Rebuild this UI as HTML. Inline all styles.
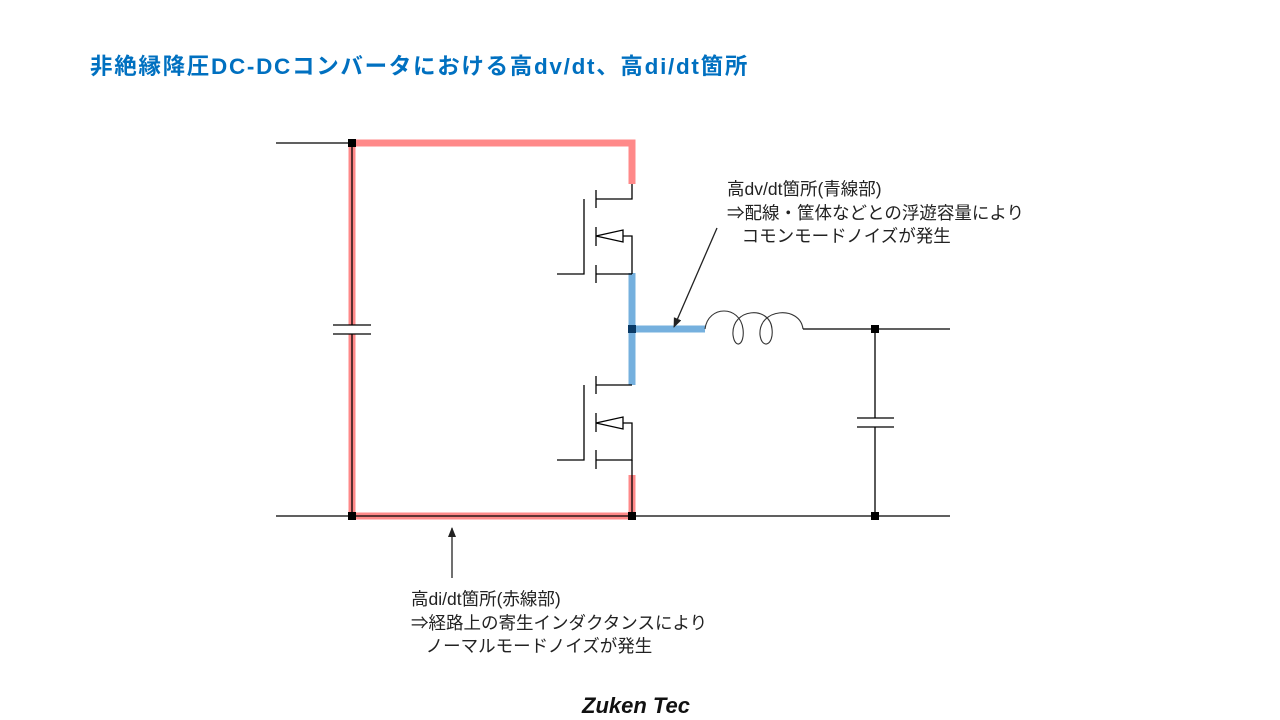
<!DOCTYPE html>
<html><head><meta charset="utf-8"><style>
html,body{margin:0;padding:0;background:#fff;}
body{width:1280px;height:720px;overflow:hidden;position:relative;font-family:"Liberation Sans","Noto Sans CJK JP",sans-serif;}
.t{position:absolute;white-space:pre;color:#222;font-size:17.5px;line-height:23.5px;}
</style></head><body>
<div class="t" style="left:90px;top:52px;font-size:22.5px;font-weight:bold;color:#0070C0;line-height:30px;letter-spacing:1.7px;">非絶縁降圧DC-DCコンバータにおける高dv/dt、高di/dt箇所</div>
<svg width="1280" height="720" style="position:absolute;left:0;top:0">
<defs><marker id="ah" markerWidth="10" markerHeight="10" refX="9" refY="5" orient="auto" markerUnits="userSpaceOnUse"><path d="M0,1 L10,5 L0,9 z" fill="#222"/></marker></defs>
<g stroke="#ff3b3b" stroke-opacity="0.6" stroke-width="7" fill="none">
<path d="M352,143 H632 V184"/>
<path d="M352,143 V325"/><path d="M352,334 V516 H632"/>
<path d="M632,475 V516"/>
</g>
<g stroke="#3a8fd0" stroke-opacity="0.7" stroke-width="7" fill="none">
<path d="M632,273 V385"/><path d="M632,329 H705"/>
</g>
<g stroke="#000" stroke-width="1.3" fill="none">
<path d="M276,143 H352"/><path d="M352,143 V325"/><path d="M352,334 V516"/>
<path d="M333,325 H371"/><path d="M333,334 H371"/>
<path d="M276,516 H950"/>
<path d="M632,184 V199 H596"/>
<path d="M596,190 V208"/><path d="M596,227 V246"/><path d="M596,265 V283"/>
<path d="M584,199 V274 H557"/>
<path d="M596,274 H632"/>
<path d="M596,236 L623,230 V242 Z M623,236 H632 V274"/>
<path d="M596,385 H632"/>
<path d="M596,376 V394"/><path d="M596,413 V432"/><path d="M596,450 V469"/>
<path d="M584,385 V460 H557"/>
<path d="M596,460 H632 V423 H623"/>
<path d="M596,423 L623,417 V429 Z"/>
<path d="M632,460 V516"/>
<path d="M705,329 C708,305 740,305 743,329 C745,345 735,350 733,335 C731,308 770,305 772,329 C774,345 762,350 760,335 C758,308 800,305 803,329" stroke="#333" stroke-width="1.1"/>
<path d="M803,329 H950"/>
<path d="M875,329 V418"/><path d="M875,427 V516"/>
<path d="M857,418 H894"/><path d="M857,427 H894"/>
<path d="M717,228 L674,327" marker-end="url(#ah)" stroke="#222"/>
<path d="M452,578 L452,528" marker-end="url(#ah)" stroke="#222"/>
</g>
<g fill="#000">
<rect x="348" y="139" width="8" height="8"/>
<rect x="348" y="512" width="8" height="8"/>
<rect x="628" y="512" width="8" height="8"/>
<rect x="871" y="512" width="8" height="8"/>
<rect x="871" y="325" width="8" height="8"/>
<rect x="628" y="325" width="8" height="8" fill="#0a3a66"/>
</g>
</svg>
<div class="t" style="left:727px;top:178px;">高dv/dt箇所(青線部)
⇒配線・筐体などとの浮遊容量により
   コモンモードノイズが発生</div>
<div class="t" style="left:411px;top:588px;">高di/dt箇所(赤線部)
⇒経路上の寄生インダクタンスにより
   ノーマルモードノイズが発生</div>
<div class="t" style="left:582px;top:692px;font-size:22px;font-weight:bold;font-style:italic;color:#111;line-height:28px;">Zuken Tec</div>
</body></html>
